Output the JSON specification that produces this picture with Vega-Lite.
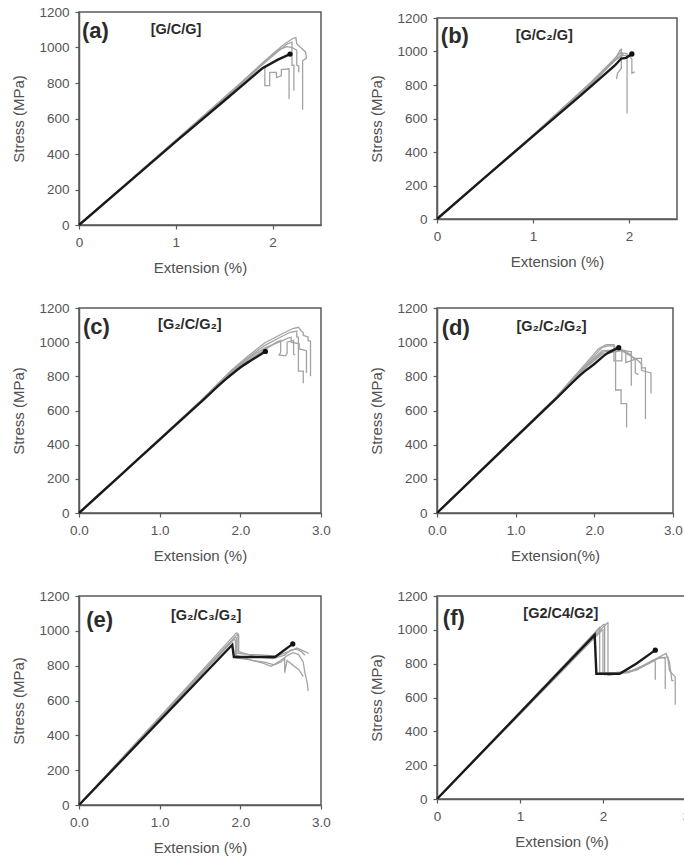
{
"$schema": "https://vega.github.io/schema/vega-lite/v6.json",
"padding": {"left": 11, "top": 4, "right": 0, "bottom": 0},
"background": "white",
"config": {
  "font": "Liberation Sans",
  "view": {"stroke": "#5a5a5a", "strokeWidth": 1.5},
  "axis": {"grid": false, "domainColor": "#5a5a5a", "domainWidth": 1.5, "tickColor": "#5a5a5a", "tickSize": 4, "tickWidth": 1.2,
    "labelFont": "Liberation Sans", "labelFontSize": 13.5, "labelColor": "#555555", "labelPadding": 6, "labelFlush": false, "labelOverlap": false,
    "titleFont": "Liberation Sans", "titleFontSize": 15, "titleFontWeight": "normal", "titleColor": "#505050", "titlePadding": 12},
  "axisY": {"titlePadding": 12, "format": "d"},
  "text": {"font": "Liberation Sans", "align": "left", "baseline": "middle", "fontWeight": "bold", "color": "#2b2b2b"}
},
"datasets": {
"curves": [
{"p":"a","c":"k","i":0,"x":0,"y":0},{"p":"a","c":"k","i":1,"x":0.5,"y":235},{"p":"a","c":"k","i":2,"x":1,"y":470},{"p":"a","c":"k","i":3,"x":1.5,"y":700},{"p":"a","c":"k","i":4,"x":1.9,"y":885},{"p":"a","c":"k","i":5,"x":2.05,"y":930},{"p":"a","c":"k","i":6,"x":2.18,"y":963},
{"p":"a","c":"g1","i":0,"x":0,"y":0},{"p":"a","c":"g1","i":1,"x":1,"y":478},{"p":"a","c":"g1","i":2,"x":1.6,"y":765},{"p":"a","c":"g1","i":3,"x":1.9,"y":915},{"p":"a","c":"g1","i":4,"x":2.1,"y":1010},{"p":"a","c":"g1","i":5,"x":2.2,"y":1048},{"p":"a","c":"g1","i":6,"x":2.24,"y":1057},{"p":"a","c":"g1","i":7,"x":2.25,"y":1020},{"p":"a","c":"g1","i":8,"x":2.29,"y":1000},{"p":"a","c":"g1","i":9,"x":2.34,"y":975},{"p":"a","c":"g1","i":10,"x":2.35,"y":940},{"p":"a","c":"g1","i":11,"x":2.31,"y":925},{"p":"a","c":"g1","i":12,"x":2.31,"y":650},
{"p":"a","c":"g2","i":0,"x":0,"y":0},{"p":"a","c":"g2","i":1,"x":1,"y":476},{"p":"a","c":"g2","i":2,"x":1.6,"y":762},{"p":"a","c":"g2","i":3,"x":1.9,"y":905},{"p":"a","c":"g2","i":4,"x":2.05,"y":975},{"p":"a","c":"g2","i":5,"x":2.15,"y":1020},{"p":"a","c":"g2","i":6,"x":2.2,"y":1030},{"p":"a","c":"g2","i":7,"x":2.2,"y":900},{"p":"a","c":"g2","i":8,"x":2.22,"y":900},{"p":"a","c":"g2","i":9,"x":2.22,"y":757},
{"p":"a","c":"g3","i":0,"x":0,"y":0},{"p":"a","c":"g3","i":1,"x":1,"y":474},{"p":"a","c":"g3","i":2,"x":1.6,"y":758},{"p":"a","c":"g3","i":3,"x":1.85,"y":870},{"p":"a","c":"g3","i":4,"x":1.92,"y":895},{"p":"a","c":"g3","i":5,"x":1.92,"y":785},{"p":"a","c":"g3","i":6,"x":1.97,"y":785},{"p":"a","c":"g3","i":7,"x":1.97,"y":860},{"p":"a","c":"g3","i":8,"x":2.04,"y":860},{"p":"a","c":"g3","i":9,"x":2.04,"y":830},{"p":"a","c":"g3","i":10,"x":2.09,"y":840},{"p":"a","c":"g3","i":11,"x":2.09,"y":875},{"p":"a","c":"g3","i":12,"x":2.17,"y":880},{"p":"a","c":"g3","i":13,"x":2.17,"y":710},
{"p":"a","c":"g4","i":0,"x":0,"y":0},{"p":"a","c":"g4","i":1,"x":1,"y":477},{"p":"a","c":"g4","i":2,"x":1.6,"y":766},{"p":"a","c":"g4","i":3,"x":1.9,"y":910},{"p":"a","c":"g4","i":4,"x":2.05,"y":985},{"p":"a","c":"g4","i":5,"x":2.15,"y":1005},{"p":"a","c":"g4","i":6,"x":2.2,"y":1000},{"p":"a","c":"g4","i":7,"x":2.25,"y":985},{"p":"a","c":"g4","i":8,"x":2.25,"y":900},{"p":"a","c":"g4","i":9,"x":2.27,"y":895},{"p":"a","c":"g4","i":10,"x":2.27,"y":860},
{"p":"b","c":"k","i":0,"x":0,"y":0},{"p":"b","c":"k","i":1,"x":0.5,"y":248},{"p":"b","c":"k","i":2,"x":1,"y":495},{"p":"b","c":"k","i":3,"x":1.5,"y":740},{"p":"b","c":"k","i":4,"x":1.85,"y":915},{"p":"b","c":"k","i":5,"x":1.92,"y":958},{"p":"b","c":"k","i":6,"x":1.97,"y":962},{"p":"b","c":"k","i":7,"x":2.03,"y":985},
{"p":"b","c":"g1","i":0,"x":0,"y":0},{"p":"b","c":"g1","i":1,"x":1,"y":500},{"p":"b","c":"g1","i":2,"x":1.6,"y":810},{"p":"b","c":"g1","i":3,"x":1.85,"y":950},{"p":"b","c":"g1","i":4,"x":1.91,"y":1010},{"p":"b","c":"g1","i":5,"x":1.92,"y":1013},{"p":"b","c":"g1","i":6,"x":1.92,"y":900},{"p":"b","c":"g1","i":7,"x":1.88,"y":870},{"p":"b","c":"g1","i":8,"x":1.87,"y":835},
{"p":"b","c":"g2","i":0,"x":0,"y":0},{"p":"b","c":"g2","i":1,"x":1,"y":498},{"p":"b","c":"g2","i":2,"x":1.6,"y":805},{"p":"b","c":"g2","i":3,"x":1.87,"y":960},{"p":"b","c":"g2","i":4,"x":1.95,"y":990},{"p":"b","c":"g2","i":5,"x":1.98,"y":985},{"p":"b","c":"g2","i":6,"x":1.98,"y":630},
{"p":"b","c":"g3","i":0,"x":0,"y":0},{"p":"b","c":"g3","i":1,"x":1,"y":497},{"p":"b","c":"g3","i":2,"x":1.6,"y":800},{"p":"b","c":"g3","i":3,"x":1.85,"y":945},{"p":"b","c":"g3","i":4,"x":1.93,"y":975},{"p":"b","c":"g3","i":5,"x":2.0,"y":975},{"p":"b","c":"g3","i":6,"x":2.03,"y":955},{"p":"b","c":"g3","i":7,"x":2.03,"y":870},{"p":"b","c":"g3","i":8,"x":2.06,"y":878},
{"p":"b","c":"g4","i":0,"x":0,"y":0},{"p":"b","c":"g4","i":1,"x":1,"y":502},{"p":"b","c":"g4","i":2,"x":1.6,"y":815},{"p":"b","c":"g4","i":3,"x":1.88,"y":975},{"p":"b","c":"g4","i":4,"x":1.92,"y":995},{"p":"b","c":"g4","i":5,"x":1.95,"y":985},
{"p":"c","c":"k","i":0,"x":0,"y":0},{"p":"c","c":"k","i":1,"x":0.5,"y":215},{"p":"c","c":"k","i":2,"x":1,"y":430},{"p":"c","c":"k","i":3,"x":1.5,"y":645},{"p":"c","c":"k","i":4,"x":1.85,"y":795},{"p":"c","c":"k","i":5,"x":2.0,"y":852},{"p":"c","c":"k","i":6,"x":2.15,"y":898},{"p":"c","c":"k","i":7,"x":2.31,"y":946},
{"p":"c","c":"g1","i":0,"x":0,"y":0},{"p":"c","c":"g1","i":1,"x":1,"y":435},{"p":"c","c":"g1","i":2,"x":1.5,"y":655},{"p":"c","c":"g1","i":3,"x":1.9,"y":840},{"p":"c","c":"g1","i":4,"x":2.1,"y":920},{"p":"c","c":"g1","i":5,"x":2.3,"y":995},{"p":"c","c":"g1","i":6,"x":2.5,"y":1045},{"p":"c","c":"g1","i":7,"x":2.65,"y":1080},{"p":"c","c":"g1","i":8,"x":2.72,"y":1087},{"p":"c","c":"g1","i":9,"x":2.75,"y":1070},{"p":"c","c":"g1","i":10,"x":2.78,"y":1055},{"p":"c","c":"g1","i":11,"x":2.78,"y":1040},{"p":"c","c":"g1","i":12,"x":2.84,"y":1030},{"p":"c","c":"g1","i":13,"x":2.84,"y":1010},{"p":"c","c":"g1","i":14,"x":2.87,"y":1005},{"p":"c","c":"g1","i":15,"x":2.87,"y":800},
{"p":"c","c":"g2","i":0,"x":0,"y":0},{"p":"c","c":"g2","i":1,"x":1,"y":434},{"p":"c","c":"g2","i":2,"x":1.5,"y":652},{"p":"c","c":"g2","i":3,"x":1.9,"y":835},{"p":"c","c":"g2","i":4,"x":2.1,"y":910},{"p":"c","c":"g2","i":5,"x":2.3,"y":980},{"p":"c","c":"g2","i":6,"x":2.5,"y":1030},{"p":"c","c":"g2","i":7,"x":2.62,"y":1058},{"p":"c","c":"g2","i":8,"x":2.7,"y":1065},{"p":"c","c":"g2","i":9,"x":2.7,"y":1030},{"p":"c","c":"g2","i":10,"x":2.72,"y":1030},{"p":"c","c":"g2","i":11,"x":2.72,"y":830},{"p":"c","c":"g2","i":12,"x":2.78,"y":830},{"p":"c","c":"g2","i":13,"x":2.78,"y":760},
{"p":"c","c":"g3","i":0,"x":0,"y":0},{"p":"c","c":"g3","i":1,"x":1,"y":433},{"p":"c","c":"g3","i":2,"x":1.5,"y":650},{"p":"c","c":"g3","i":3,"x":1.9,"y":832},{"p":"c","c":"g3","i":4,"x":2.1,"y":905},{"p":"c","c":"g3","i":5,"x":2.3,"y":965},{"p":"c","c":"g3","i":6,"x":2.5,"y":1005},{"p":"c","c":"g3","i":7,"x":2.6,"y":1025},{"p":"c","c":"g3","i":8,"x":2.63,"y":1028},{"p":"c","c":"g3","i":9,"x":2.63,"y":1000},{"p":"c","c":"g3","i":10,"x":2.73,"y":990},{"p":"c","c":"g3","i":11,"x":2.73,"y":960},{"p":"c","c":"g3","i":12,"x":2.82,"y":950},{"p":"c","c":"g3","i":13,"x":2.82,"y":820},
{"p":"c","c":"g4","i":0,"x":0,"y":0},{"p":"c","c":"g4","i":1,"x":1,"y":432},{"p":"c","c":"g4","i":2,"x":1.5,"y":648},{"p":"c","c":"g4","i":3,"x":1.9,"y":828},{"p":"c","c":"g4","i":4,"x":2.1,"y":895},{"p":"c","c":"g4","i":5,"x":2.3,"y":955},{"p":"c","c":"g4","i":6,"x":2.45,"y":1000},{"p":"c","c":"g4","i":7,"x":2.5,"y":1010},{"p":"c","c":"g4","i":8,"x":2.5,"y":940},{"p":"c","c":"g4","i":9,"x":2.48,"y":925},{"p":"c","c":"g4","i":10,"x":2.56,"y":920},{"p":"c","c":"g4","i":11,"x":2.58,"y":935},{"p":"c","c":"g4","i":12,"x":2.58,"y":1000},{"p":"c","c":"g4","i":13,"x":2.66,"y":1010},{"p":"c","c":"g4","i":14,"x":2.66,"y":930},{"p":"c","c":"g4","i":15,"x":2.68,"y":925},
{"p":"d","c":"k","i":0,"x":0,"y":0},{"p":"d","c":"k","i":1,"x":0.5,"y":222},{"p":"d","c":"k","i":2,"x":1,"y":443},{"p":"d","c":"k","i":3,"x":1.5,"y":663},{"p":"d","c":"k","i":4,"x":1.9,"y":838},{"p":"d","c":"k","i":5,"x":2.0,"y":872},{"p":"d","c":"k","i":6,"x":2.15,"y":930},{"p":"d","c":"k","i":7,"x":2.31,"y":968},
{"p":"d","c":"g1","i":0,"x":0,"y":0},{"p":"d","c":"g1","i":1,"x":1,"y":450},{"p":"d","c":"g1","i":2,"x":1.5,"y":672},{"p":"d","c":"g1","i":3,"x":1.9,"y":880},{"p":"d","c":"g1","i":4,"x":2.05,"y":960},{"p":"d","c":"g1","i":5,"x":2.15,"y":985},{"p":"d","c":"g1","i":6,"x":2.25,"y":985},{"p":"d","c":"g1","i":7,"x":2.27,"y":960},{"p":"d","c":"g1","i":8,"x":2.27,"y":720},{"p":"d","c":"g1","i":9,"x":2.34,"y":720},{"p":"d","c":"g1","i":10,"x":2.34,"y":640},{"p":"d","c":"g1","i":11,"x":2.41,"y":640},{"p":"d","c":"g1","i":12,"x":2.41,"y":500},
{"p":"d","c":"g2","i":0,"x":0,"y":0},{"p":"d","c":"g2","i":1,"x":1,"y":447},{"p":"d","c":"g2","i":2,"x":1.5,"y":668},{"p":"d","c":"g2","i":3,"x":1.9,"y":870},{"p":"d","c":"g2","i":4,"x":2.1,"y":970},{"p":"d","c":"g2","i":5,"x":2.2,"y":980},{"p":"d","c":"g2","i":6,"x":2.25,"y":975},{"p":"d","c":"g2","i":7,"x":2.25,"y":890},{"p":"d","c":"g2","i":8,"x":2.35,"y":890},{"p":"d","c":"g2","i":9,"x":2.35,"y":950},{"p":"d","c":"g2","i":10,"x":2.47,"y":945},{"p":"d","c":"g2","i":11,"x":2.47,"y":745},
{"p":"d","c":"g3","i":0,"x":0,"y":0},{"p":"d","c":"g3","i":1,"x":1,"y":444},{"p":"d","c":"g3","i":2,"x":1.5,"y":665},{"p":"d","c":"g3","i":3,"x":1.9,"y":860},{"p":"d","c":"g3","i":4,"x":2.1,"y":940},{"p":"d","c":"g3","i":5,"x":2.3,"y":960},{"p":"d","c":"g3","i":6,"x":2.4,"y":950},{"p":"d","c":"g3","i":7,"x":2.4,"y":880},{"p":"d","c":"g3","i":8,"x":2.52,"y":900},{"p":"d","c":"g3","i":9,"x":2.52,"y":820},{"p":"d","c":"g3","i":10,"x":2.56,"y":810},
{"p":"d","c":"g4","i":0,"x":0,"y":0},{"p":"d","c":"g4","i":1,"x":1,"y":446},{"p":"d","c":"g4","i":2,"x":1.5,"y":667},{"p":"d","c":"g4","i":3,"x":1.9,"y":865},{"p":"d","c":"g4","i":4,"x":2.1,"y":950},{"p":"d","c":"g4","i":5,"x":2.35,"y":955},{"p":"d","c":"g4","i":6,"x":2.45,"y":930},{"p":"d","c":"g4","i":7,"x":2.5,"y":905},{"p":"d","c":"g4","i":8,"x":2.6,"y":905},{"p":"d","c":"g4","i":9,"x":2.6,"y":850},{"p":"d","c":"g4","i":10,"x":2.65,"y":850},{"p":"d","c":"g4","i":11,"x":2.65,"y":550},
{"p":"d","c":"g5","i":0,"x":0,"y":0},{"p":"d","c":"g5","i":1,"x":1,"y":443},{"p":"d","c":"g5","i":2,"x":1.5,"y":663},{"p":"d","c":"g5","i":3,"x":1.9,"y":855},{"p":"d","c":"g5","i":4,"x":2.1,"y":930},{"p":"d","c":"g5","i":5,"x":2.35,"y":950},{"p":"d","c":"g5","i":6,"x":2.55,"y":895},{"p":"d","c":"g5","i":7,"x":2.6,"y":870},{"p":"d","c":"g5","i":8,"x":2.6,"y":835},{"p":"d","c":"g5","i":9,"x":2.72,"y":820},{"p":"d","c":"g5","i":10,"x":2.72,"y":700},
{"p":"e","c":"k","i":0,"x":0,"y":0},{"p":"e","c":"k","i":1,"x":1,"y":484},{"p":"e","c":"k","i":2,"x":1.9,"y":920},{"p":"e","c":"k","i":3,"x":1.92,"y":850},{"p":"e","c":"k","i":4,"x":2.43,"y":850},{"p":"e","c":"k","i":5,"x":2.65,"y":925},
{"p":"e","c":"g1","i":0,"x":0,"y":0},{"p":"e","c":"g1","i":1,"x":1,"y":505},{"p":"e","c":"g1","i":2,"x":1.95,"y":988},{"p":"e","c":"g1","i":3,"x":1.97,"y":985},{"p":"e","c":"g1","i":4,"x":1.97,"y":870},{"p":"e","c":"g1","i":5,"x":2.1,"y":865},{"p":"e","c":"g1","i":6,"x":2.3,"y":860},{"p":"e","c":"g1","i":7,"x":2.45,"y":855},{"p":"e","c":"g1","i":8,"x":2.6,"y":880},{"p":"e","c":"g1","i":9,"x":2.7,"y":902},{"p":"e","c":"g1","i":10,"x":2.78,"y":885},{"p":"e","c":"g1","i":11,"x":2.85,"y":870},
{"p":"e","c":"g2","i":0,"x":0,"y":0},{"p":"e","c":"g2","i":1,"x":1,"y":498},{"p":"e","c":"g2","i":2,"x":1.93,"y":962},{"p":"e","c":"g2","i":3,"x":1.95,"y":960},{"p":"e","c":"g2","i":4,"x":1.95,"y":845},{"p":"e","c":"g2","i":5,"x":2.1,"y":835},{"p":"e","c":"g2","i":6,"x":2.28,"y":815},{"p":"e","c":"g2","i":7,"x":2.38,"y":796},{"p":"e","c":"g2","i":8,"x":2.5,"y":830},{"p":"e","c":"g2","i":9,"x":2.57,"y":854},{"p":"e","c":"g2","i":10,"x":2.65,"y":875},{"p":"e","c":"g2","i":11,"x":2.72,"y":865},{"p":"e","c":"g2","i":12,"x":2.78,"y":820},{"p":"e","c":"g2","i":13,"x":2.8,"y":760},{"p":"e","c":"g2","i":14,"x":2.83,"y":700},{"p":"e","c":"g2","i":15,"x":2.84,"y":655},
{"p":"e","c":"g3","i":0,"x":0,"y":0},{"p":"e","c":"g3","i":1,"x":1,"y":495},{"p":"e","c":"g3","i":2,"x":1.92,"y":950},{"p":"e","c":"g3","i":3,"x":1.94,"y":945},{"p":"e","c":"g3","i":4,"x":1.94,"y":860},{"p":"e","c":"g3","i":5,"x":2.15,"y":830},{"p":"e","c":"g3","i":6,"x":2.3,"y":820},{"p":"e","c":"g3","i":7,"x":2.42,"y":805},{"p":"e","c":"g3","i":8,"x":2.5,"y":820},{"p":"e","c":"g3","i":9,"x":2.55,"y":840},{"p":"e","c":"g3","i":10,"x":2.55,"y":760},{"p":"e","c":"g3","i":11,"x":2.58,"y":830},{"p":"e","c":"g3","i":12,"x":2.67,"y":796},{"p":"e","c":"g3","i":13,"x":2.72,"y":780},{"p":"e","c":"g3","i":14,"x":2.78,"y":739},
{"p":"e","c":"g4","i":0,"x":0,"y":0},{"p":"e","c":"g4","i":1,"x":1,"y":502},{"p":"e","c":"g4","i":2,"x":1.96,"y":978},{"p":"e","c":"g4","i":3,"x":1.98,"y":975},{"p":"e","c":"g4","i":4,"x":1.98,"y":880},{"p":"e","c":"g4","i":5,"x":2.2,"y":850},{"p":"e","c":"g4","i":6,"x":2.4,"y":840},{"p":"e","c":"g4","i":7,"x":2.55,"y":860},{"p":"e","c":"g4","i":8,"x":2.62,"y":890},{"p":"e","c":"g4","i":9,"x":2.7,"y":895},{"p":"e","c":"g4","i":10,"x":2.76,"y":880},{"p":"e","c":"g4","i":11,"x":2.8,"y":860},
{"p":"f","c":"k","i":0,"x":0,"y":0},{"p":"f","c":"k","i":1,"x":1,"y":510},{"p":"f","c":"k","i":2,"x":1.9,"y":970},{"p":"f","c":"k","i":3,"x":1.92,"y":740},{"p":"f","c":"k","i":4,"x":2.2,"y":740},{"p":"f","c":"k","i":5,"x":2.4,"y":800},{"p":"f","c":"k","i":6,"x":2.63,"y":880},
{"p":"f","c":"g1","i":0,"x":0,"y":0},{"p":"f","c":"g1","i":1,"x":1,"y":515},{"p":"f","c":"g1","i":2,"x":1.95,"y":1010},{"p":"f","c":"g1","i":3,"x":1.96,"y":1015},{"p":"f","c":"g1","i":4,"x":1.96,"y":745},{"p":"f","c":"g1","i":5,"x":2.3,"y":745},{"p":"f","c":"g1","i":6,"x":2.5,"y":790},{"p":"f","c":"g1","i":7,"x":2.6,"y":820},{"p":"f","c":"g1","i":8,"x":2.63,"y":810},{"p":"f","c":"g1","i":9,"x":2.63,"y":705},
{"p":"f","c":"g2","i":0,"x":0,"y":0},{"p":"f","c":"g2","i":1,"x":1,"y":510},{"p":"f","c":"g2","i":2,"x":2.0,"y":1030},{"p":"f","c":"g2","i":3,"x":2.02,"y":1032},{"p":"f","c":"g2","i":4,"x":2.02,"y":735},{"p":"f","c":"g2","i":5,"x":2.3,"y":750},{"p":"f","c":"g2","i":6,"x":2.55,"y":800},{"p":"f","c":"g2","i":7,"x":2.7,"y":840},{"p":"f","c":"g2","i":8,"x":2.75,"y":830},{"p":"f","c":"g2","i":9,"x":2.75,"y":650},
{"p":"f","c":"g3","i":0,"x":0,"y":0},{"p":"f","c":"g3","i":1,"x":1,"y":505},{"p":"f","c":"g3","i":2,"x":2.05,"y":1040},{"p":"f","c":"g3","i":3,"x":2.06,"y":1042},{"p":"f","c":"g3","i":4,"x":2.06,"y":730},{"p":"f","c":"g3","i":5,"x":2.35,"y":755},{"p":"f","c":"g3","i":6,"x":2.6,"y":820},{"p":"f","c":"g3","i":7,"x":2.76,"y":860},{"p":"f","c":"g3","i":8,"x":2.8,"y":810},{"p":"f","c":"g3","i":9,"x":2.83,"y":700},{"p":"f","c":"g3","i":10,"x":2.85,"y":700},
{"p":"f","c":"g4","i":0,"x":0,"y":0},{"p":"f","c":"g4","i":1,"x":1,"y":500},{"p":"f","c":"g4","i":2,"x":1.98,"y":995},{"p":"f","c":"g4","i":3,"x":2.0,"y":1000},{"p":"f","c":"g4","i":4,"x":2.0,"y":740},{"p":"f","c":"g4","i":5,"x":2.4,"y":760},{"p":"f","c":"g4","i":6,"x":2.65,"y":830},{"p":"f","c":"g4","i":7,"x":2.78,"y":840},{"p":"f","c":"g4","i":8,"x":2.8,"y":760},{"p":"f","c":"g4","i":9,"x":2.87,"y":720},{"p":"f","c":"g4","i":10,"x":2.87,"y":557}
],
"ends": [
{"p":"a","x":2.18,"y":963},{"p":"b","x":2.03,"y":985},{"p":"c","x":2.31,"y":946},{"p":"d","x":2.31,"y":968},{"p":"e","x":2.65,"y":925},{"p":"f","x":2.63,"y":880}
],
"labels": [
{"p":"a","k":"id","x":0.03,"y":1095,"t":"(a)"},{"p":"a","k":"lam","x":0.74,"y":1100,"t":"[G/C/G]"},
{"p":"b","k":"id","x":0.04,"y":1090,"t":"(b)"},{"p":"b","k":"lam","x":0.82,"y":1093,"t":"[G/C₂/G]"},
{"p":"c","k":"id","x":0.05,"y":1090,"t":"(c)"},{"p":"c","k":"lam","x":0.98,"y":1100,"t":"[G₂/C/G₂]"},
{"p":"d","k":"id","x":0.06,"y":1085,"t":"(d)"},{"p":"d","k":"lam","x":1.01,"y":1090,"t":"[G₂/C₂/G₂]"},
{"p":"e","k":"id","x":0.09,"y":1065,"t":"(e)"},{"p":"e","k":"lam","x":1.14,"y":1085,"t":"[G₂/C₃/G₂]"},
{"p":"f","k":"id","x":0.07,"y":1070,"t":"(f)"},{"p":"f","k":"lam","x":1.04,"y":1095,"t":"[G2/C4/G2]"}
]
},
"columns": 2,
"spacing": {"row": 83, "column": 116},
"bounds": "flush",
"align": "each",
"center": {"row": true, "column": false},
"concat": [
{
 "width": 242, "height": 213,
 "encoding": {
  "x": {"field": "x", "type": "quantitative", "scale": {"domain": [0, 2.5], "nice": false}, "axis": {"title": "Extension (%)", "values": [0, 1, 2], "format": "d"}},
  "y": {"field": "y", "type": "quantitative", "scale": {"domain": [0, 1200], "nice": false}, "axis": {"title": "Stress (MPa)", "values": [0, 200, 400, 600, 800, 1000, 1200], "format": "d"}}
 },
 "layer": [
  {"data": {"name": "curves"}, "transform": [{"filter": "datum.p == 'a' && datum.c != 'k'"}], "mark": {"type": "line", "color": "#a3a3a3", "strokeWidth": 1.3}, "encoding": {"detail": {"field": "c"}, "order": {"field": "i"}}},
  {"data": {"name": "curves"}, "transform": [{"filter": "datum.p == 'a' && datum.c == 'k'"}], "mark": {"type": "line", "color": "#1a1a1a", "strokeWidth": 2.4}, "encoding": {"order": {"field": "i"}}},
  {"data": {"name": "ends"}, "transform": [{"filter": "datum.p == 'a'"}], "mark": {"type": "point", "filled": true, "color": "#111111", "size": 28, "opacity": 1}},
  {"data": {"name": "labels"}, "transform": [{"filter": "datum.p == 'a' && datum.k == 'id'"}], "mark": {"type": "text", "fontSize": 22}, "encoding": {"text": {"field": "t"}}},
  {"data": {"name": "labels"}, "transform": [{"filter": "datum.p == 'a' && datum.k == 'lam'"}], "mark": {"type": "text", "fontSize": 14.5}, "encoding": {"text": {"field": "t"}}}
 ]
},
{
 "width": 240, "height": 201,
 "encoding": {
  "x": {"field": "x", "type": "quantitative", "scale": {"domain": [0, 2.5], "nice": false}, "axis": {"title": "Extension (%)", "values": [0, 1, 2], "format": "d"}},
  "y": {"field": "y", "type": "quantitative", "scale": {"domain": [0, 1200], "nice": false}, "axis": {"title": "Stress (MPa)", "values": [0, 200, 400, 600, 800, 1000, 1200], "format": "d"}}
 },
 "layer": [
  {"data": {"name": "curves"}, "transform": [{"filter": "datum.p == 'b' && datum.c != 'k'"}], "mark": {"type": "line", "color": "#a3a3a3", "strokeWidth": 1.3}, "encoding": {"detail": {"field": "c"}, "order": {"field": "i"}}},
  {"data": {"name": "curves"}, "transform": [{"filter": "datum.p == 'b' && datum.c == 'k'"}], "mark": {"type": "line", "color": "#1a1a1a", "strokeWidth": 2.4}, "encoding": {"order": {"field": "i"}}},
  {"data": {"name": "ends"}, "transform": [{"filter": "datum.p == 'b'"}], "mark": {"type": "point", "filled": true, "color": "#111111", "size": 28, "opacity": 1}},
  {"data": {"name": "labels"}, "transform": [{"filter": "datum.p == 'b' && datum.k == 'id'"}], "mark": {"type": "text", "fontSize": 22}, "encoding": {"text": {"field": "t"}}},
  {"data": {"name": "labels"}, "transform": [{"filter": "datum.p == 'b' && datum.k == 'lam'"}], "mark": {"type": "text", "fontSize": 14.5}, "encoding": {"text": {"field": "t"}}}
 ]
},
{
 "width": 242, "height": 205,
 "encoding": {
  "x": {"field": "x", "type": "quantitative", "scale": {"domain": [0, 3], "nice": false}, "axis": {"title": "Extension (%)", "values": [0, 1, 2, 3], "format": ".1f"}},
  "y": {"field": "y", "type": "quantitative", "scale": {"domain": [0, 1200], "nice": false}, "axis": {"title": "Stress (MPa)", "values": [0, 200, 400, 600, 800, 1000, 1200], "format": "d"}}
 },
 "layer": [
  {"data": {"name": "curves"}, "transform": [{"filter": "datum.p == 'c' && datum.c != 'k'"}], "mark": {"type": "line", "color": "#a3a3a3", "strokeWidth": 1.3}, "encoding": {"detail": {"field": "c"}, "order": {"field": "i"}}},
  {"data": {"name": "curves"}, "transform": [{"filter": "datum.p == 'c' && datum.c == 'k'"}], "mark": {"type": "line", "color": "#1a1a1a", "strokeWidth": 2.4, "interpolate": "monotone"}, "encoding": {"order": {"field": "i"}}},
  {"data": {"name": "ends"}, "transform": [{"filter": "datum.p == 'c'"}], "mark": {"type": "point", "filled": true, "color": "#111111", "size": 28, "opacity": 1}},
  {"data": {"name": "labels"}, "transform": [{"filter": "datum.p == 'c' && datum.k == 'id'"}], "mark": {"type": "text", "fontSize": 22}, "encoding": {"text": {"field": "t"}}},
  {"data": {"name": "labels"}, "transform": [{"filter": "datum.p == 'c' && datum.k == 'lam'"}], "mark": {"type": "text", "fontSize": 14.5}, "encoding": {"text": {"field": "t"}}}
 ]
},
{
 "width": 236, "height": 205,
 "encoding": {
  "x": {"field": "x", "type": "quantitative", "scale": {"domain": [0, 3], "nice": false}, "axis": {"title": "Extension(%)", "values": [0, 1, 2, 3], "format": ".1f"}},
  "y": {"field": "y", "type": "quantitative", "scale": {"domain": [0, 1200], "nice": false}, "axis": {"title": "Stress (MPa)", "values": [0, 200, 400, 600, 800, 1000, 1200], "format": "d"}}
 },
 "layer": [
  {"data": {"name": "curves"}, "transform": [{"filter": "datum.p == 'd' && datum.c != 'k'"}], "mark": {"type": "line", "color": "#a3a3a3", "strokeWidth": 1.3}, "encoding": {"detail": {"field": "c"}, "order": {"field": "i"}}},
  {"data": {"name": "curves"}, "transform": [{"filter": "datum.p == 'd' && datum.c == 'k'"}], "mark": {"type": "line", "color": "#1a1a1a", "strokeWidth": 2.4, "interpolate": "monotone"}, "encoding": {"order": {"field": "i"}}},
  {"data": {"name": "ends"}, "transform": [{"filter": "datum.p == 'd'"}], "mark": {"type": "point", "filled": true, "color": "#111111", "size": 28, "opacity": 1}},
  {"data": {"name": "labels"}, "transform": [{"filter": "datum.p == 'd' && datum.k == 'id'"}], "mark": {"type": "text", "fontSize": 22}, "encoding": {"text": {"field": "t"}}},
  {"data": {"name": "labels"}, "transform": [{"filter": "datum.p == 'd' && datum.k == 'lam'"}], "mark": {"type": "text", "fontSize": 14.5}, "encoding": {"text": {"field": "t"}}}
 ]
},
{
 "width": 242, "height": 209,
 "encoding": {
  "x": {"field": "x", "type": "quantitative", "scale": {"domain": [0, 3], "nice": false}, "axis": {"title": "Extension (%)", "values": [0, 1, 2, 3], "format": ".1f"}},
  "y": {"field": "y", "type": "quantitative", "scale": {"domain": [0, 1200], "nice": false}, "axis": {"title": "Stress (MPa)", "values": [0, 200, 400, 600, 800, 1000, 1200], "format": "d"}}
 },
 "layer": [
  {"data": {"name": "curves"}, "transform": [{"filter": "datum.p == 'e' && datum.c != 'k'"}], "mark": {"type": "line", "color": "#a3a3a3", "strokeWidth": 1.3}, "encoding": {"detail": {"field": "c"}, "order": {"field": "i"}}},
  {"data": {"name": "curves"}, "transform": [{"filter": "datum.p == 'e' && datum.c == 'k'"}], "mark": {"type": "line", "color": "#1a1a1a", "strokeWidth": 2.4}, "encoding": {"order": {"field": "i"}}},
  {"data": {"name": "ends"}, "transform": [{"filter": "datum.p == 'e'"}], "mark": {"type": "point", "filled": true, "color": "#111111", "size": 28, "opacity": 1}},
  {"data": {"name": "labels"}, "transform": [{"filter": "datum.p == 'e' && datum.k == 'id'"}], "mark": {"type": "text", "fontSize": 22}, "encoding": {"text": {"field": "t"}}},
  {"data": {"name": "labels"}, "transform": [{"filter": "datum.p == 'e' && datum.k == 'lam'"}], "mark": {"type": "text", "fontSize": 14.5}, "encoding": {"text": {"field": "t"}}}
 ]
},
{
 "width": 249, "height": 203,
 "encoding": {
  "x": {"field": "x", "type": "quantitative", "scale": {"domain": [0, 3], "nice": false}, "axis": {"title": "Extension (%)", "values": [0, 1, 2, 3], "format": "d"}},
  "y": {"field": "y", "type": "quantitative", "scale": {"domain": [0, 1200], "nice": false}, "axis": {"title": "Stress (MPa)", "values": [0, 200, 400, 600, 800, 1000, 1200], "format": "d"}}
 },
 "layer": [
  {"data": {"name": "curves"}, "transform": [{"filter": "datum.p == 'f' && datum.c != 'k'"}], "mark": {"type": "line", "color": "#a3a3a3", "strokeWidth": 1.3}, "encoding": {"detail": {"field": "c"}, "order": {"field": "i"}}},
  {"data": {"name": "curves"}, "transform": [{"filter": "datum.p == 'f' && datum.c == 'k'"}], "mark": {"type": "line", "color": "#1a1a1a", "strokeWidth": 2.4}, "encoding": {"order": {"field": "i"}}},
  {"data": {"name": "ends"}, "transform": [{"filter": "datum.p == 'f'"}], "mark": {"type": "point", "filled": true, "color": "#111111", "size": 28, "opacity": 1}},
  {"data": {"name": "labels"}, "transform": [{"filter": "datum.p == 'f' && datum.k == 'id'"}], "mark": {"type": "text", "fontSize": 22}, "encoding": {"text": {"field": "t"}}},
  {"data": {"name": "labels"}, "transform": [{"filter": "datum.p == 'f' && datum.k == 'lam'"}], "mark": {"type": "text", "fontSize": 14.5}, "encoding": {"text": {"field": "t"}}}
 ]
}
]
}
